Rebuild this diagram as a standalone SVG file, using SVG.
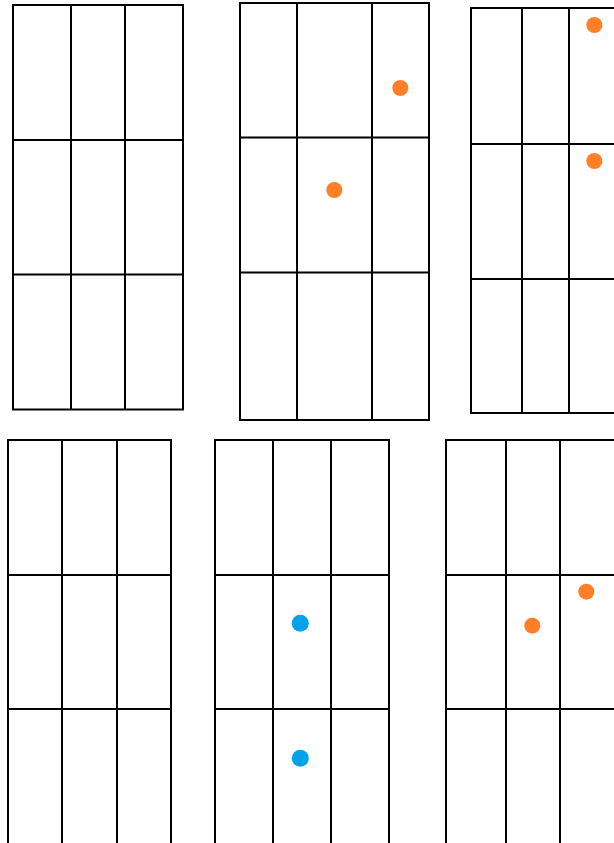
<svg xmlns="http://www.w3.org/2000/svg" width="614" height="843" viewBox="0 0 614 843">
<style>
.g{fill:none;stroke:#000;stroke-width:2}
.o{fill:#ff7f27}
.b{fill:#00a2e8}
</style>
<rect width="614" height="843" fill="#fff"/>
<g id="grid1" class="g">
<rect x="13" y="5" width="170" height="404.5"/>
<path d="M71 5V409.5M125 5V409.5M13 140H183M13 274.5H183"/>
</g>
<g id="grid2">
<g class="g">
<rect x="240" y="3" width="189" height="417"/>
<path d="M297 3V420M372 3V420M240 137.5H429M240 272.5H429"/>
</g>
<circle class="o" cx="400.3" cy="88" r="8"/>
<circle class="o" cx="334.3" cy="190" r="8"/>
</g>
<g id="grid3">
<g class="g">
<rect x="471" y="8" width="160" height="405"/>
<path d="M522 8V413M569 8V413M471 144H631M471 279H631"/>
</g>
<circle class="o" cx="594.3" cy="25" r="8"/>
<circle class="o" cx="594.3" cy="161" r="8"/>
</g>
<g id="grid4" class="g">
<rect x="8" y="440" width="163" height="420"/>
<path d="M62 440V860M117 440V860M8 575H171M8 709H171"/>
</g>
<g id="grid5">
<g class="g">
<rect x="215" y="440" width="174" height="420"/>
<path d="M273 440V860M331 440V860M215 575H389M215 709H389"/>
</g>
<circle class="b" cx="300.3" cy="623.3" r="8.5"/>
<circle class="b" cx="300.3" cy="758.3" r="8.5"/>
</g>
<g id="grid6">
<g class="g">
<rect x="446" y="440" width="190" height="420"/>
<path d="M506 440V860M560 440V860M446 575H636M446 709H636"/>
</g>
<circle class="o" cx="586.3" cy="591.7" r="8"/>
<circle class="o" cx="532.3" cy="625.7" r="8"/>
</g>
</svg>
